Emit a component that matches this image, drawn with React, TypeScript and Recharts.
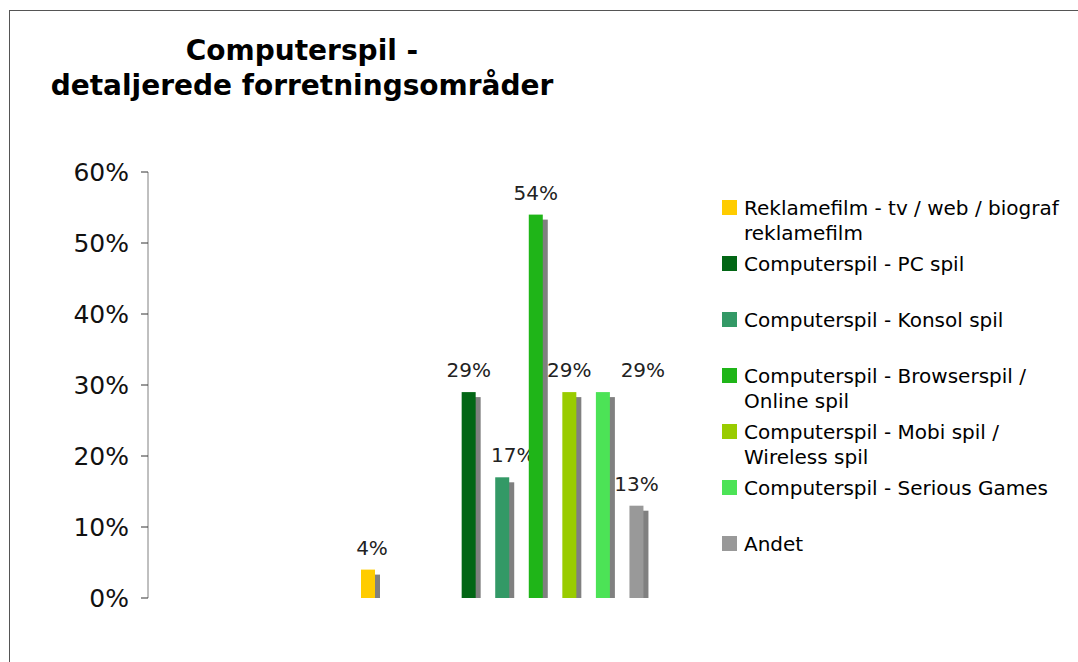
import { BarChart, Bar, XAxis, YAxis } from 'recharts';

// one slot per series; slots 1 and 2 are empty series in the original workbook
const SERIES_NAMES = [
  'Reklamefilm - tv / web / biograf reklamefilm',
  '',
  '',
  'Computerspil - PC spil',
  'Computerspil - Konsol spil',
  'Computerspil - Browserspil / Online spil',
  'Computerspil - Mobi spil / Wireless spil',
  'Computerspil - Serious Games',
  'Andet',
];
const SHARES = [4, null, null, 29, 17, 54, 29, 29, 13];
const BAR_COLORS = ['#FFCC00', 'none', 'none', '#026615', '#339966', '#1FB518', '#99CC00', '#4CE356', '#999999'];
const Y_TICKS = [0, 10, 20, 30, 40, 50, 60];

// hand-placed data labels in the original
const LABEL_NUDGE = [4, 0, 0, 0, 11, 0, 0, 40, 0];

const FONT = '"DejaVu Sans", Verdana, sans-serif';
const SHADOW = '#808080';

const data = SHARES.map((share, i) => ({ slot: String(i), name: SERIES_NAMES[i], share }));

const ShadowBar = (props: any) => {
  const { x, y, width, height, payload } = props;
  if (!payload || payload.share == null || !height || height <= 0) return <g />;
  const i = Number(payload.slot);
  return (
    <g>
      {height > 5 && <rect x={x + 5} y={y + 5} width={width} height={height - 5} fill={SHADOW} />}
      <rect x={x} y={y} width={width} height={height} fill={BAR_COLORS[i]} />
      <text
        x={x + width / 2 + LABEL_NUDGE[i]}
        y={y - 15}
        textAnchor="middle"
        fontSize={20}
        fontFamily={FONT}
        fill="#222"
      >
        {payload.share}%
      </text>
    </g>
  );
};

const LegendBox = () => (
  <div style={{ position: 'absolute', left: 722, top: 196, width: 350, fontFamily: FONT, fontSize: 20, color: '#000' }}>
    {data
      .filter(d => d.name)
      .map(d => (
        <div key={d.slot} style={{ position: 'relative', height: 56, paddingLeft: 22 }}>
          <div
            style={{
              position: 'absolute',
              left: 0,
              top: 4,
              width: 15,
              height: 15,
              backgroundColor: BAR_COLORS[Number(d.slot)],
            }}
          />
          <div style={{ lineHeight: '25px', width: 325 }}>{d.name}</div>
        </div>
      ))}
  </div>
);

export default function App() {
  return (
    <div style={{ position: 'absolute', left: 0, top: 0, width: 1078, height: 662, background: '#fff', overflow: 'hidden' }}>
      <div
        style={{
          position: 'absolute',
          left: 9,
          top: 10,
          width: 1200,
          height: 800,
          borderLeft: '1px solid #555',
          borderTop: '1px solid #555',
        }}
      />
      <div
        style={{
          position: 'absolute',
          left: 0,
          top: 33,
          width: 604,
          textAlign: 'center',
          fontFamily: FONT,
          fontWeight: 'bold',
          fontSize: 28,
          lineHeight: '35px',
          color: '#000',
        }}
      >
        Computerspil -<br />
        detaljerede forretningsområder
      </div>
      <div style={{ position: 'absolute', left: 0, top: 0 }}>
        <BarChart width={1078} height={662} data={data} margin={{ top: 172, right: 378, bottom: 64, left: 0 }}>
          <XAxis dataKey="slot" type="category" hide padding={{ left: 203, right: 47 }} />
          <YAxis
            width={148}
            domain={[0, 60]}
            ticks={Y_TICKS}
            interval={0}
            tickFormatter={(v: number) => `${v}%`}
            axisLine={{ stroke: '#808080' }}
            tickLine={{ stroke: '#333' }}
            tickSize={7}
            tickMargin={12}
            tick={{ fontSize: 25, fontFamily: FONT, fill: '#111' }}
          />
          <Bar dataKey="share" barSize={14} shape={ShadowBar} isAnimationActive={false} />
        </BarChart>
      </div>
      <LegendBox />
    </div>
  );
}
